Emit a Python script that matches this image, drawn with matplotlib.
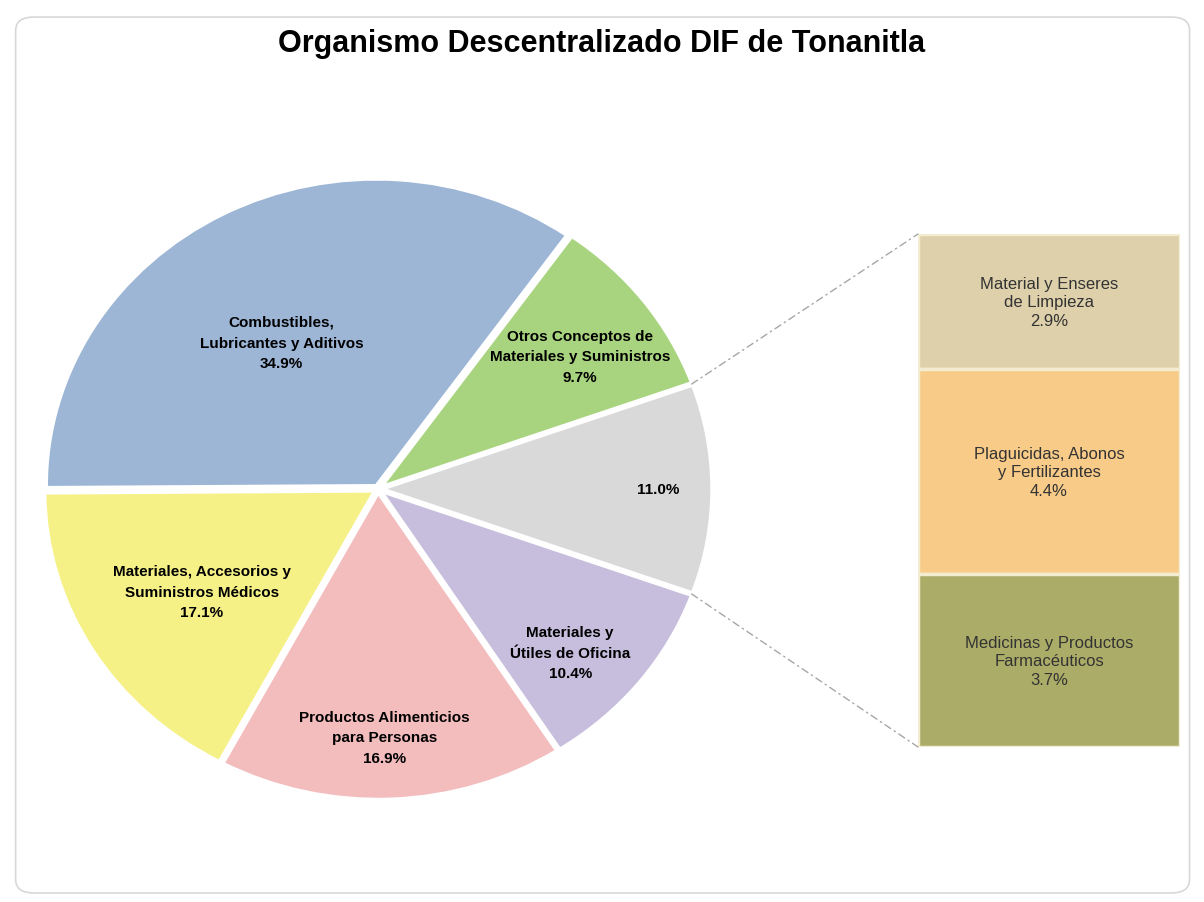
import numpy as np
import matplotlib.pyplot as plt
from matplotlib.patches import FancyBboxPatch, ConnectionPatch

# pie data (counterclockwise starting with the grouped slice)
pie_labels = ['', 'Otros Conceptos de\nMateriales y Suministros', 'Combustibles,\nLubricantes y Aditivos',
              'Materiales, Accesorios y\nSuministros Médicos', 'Productos Alimenticios\npara Personas',
              'Materiales y\nÚtiles de Oficina']
pie_values = [11.0, 9.7, 34.9, 17.1, 16.9, 10.4]
pie_colors = ['#d9d9d9', '#a9d47f', '#9db6d6', '#f5f187', '#f4bdbd', '#c6bedc']

# breakdown of the grouped slice (top to bottom)
bar_labels = ['Material y Enseres\nde Limpieza', 'Plaguicidas, Abonos\ny Fertilizantes',
              'Medicinas y Productos\nFarmacéuticos']
bar_values = [2.9, 4.4, 3.7]
bar_colors = ['#ddd0aa', '#f8cb88', '#aaac67']

title = 'Organismo Descentralizado DIF de Tonanitla'

plt.rcParams['font.family'] = ['Liberation Sans', 'DejaVu Sans']

fig = plt.figure(figsize=(12.04, 9.03), dpi=100)
fig.patches.append(FancyBboxPatch((0.013, 0.01), 0.975, 0.97, boxstyle='round,pad=0,rounding_size=0.015',
                                  transform=fig.transFigure, facecolor='none', edgecolor='#d8d8d8',
                                  lw=1.2, zorder=-1))
fig.text(0.5, 0.951, title, ha='center', va='center', fontsize=22, fontweight='bold')

# pie
ax = fig.add_axes([0.0125, 0.0836, 0.603, 0.7475])
start = -pie_values[0] / 100 * 360 / 2
wedges, _ = ax.pie(pie_values, colors=pie_colors, startangle=start, counterclock=True,
                   explode=[0.012] * len(pie_values),
                   wedgeprops=dict(edgecolor='white', linewidth=2.5))
ax.set_xlim(-1.1, 1.1)
ax.set_ylim(-1.1, 1.1)
ax.set_aspect('auto')
ax.axis('off')

label_r = [0.85, 0.75, 0.56, 0.63, 0.81, 0.79]
label_da = [0, -2, 4, 1, -1, -4]
for w, lab, val, r, da in zip(wedges, pie_labels, pie_values, label_r, label_da):
    ang = np.deg2rad((w.theta1 + w.theta2) / 2 + da)
    txt = f'{lab}\n{val:.1f}%' if lab else f'{val:.1f}%'
    ax.text(r * np.cos(ang), r * np.sin(ang), txt, ha='center', va='center',
            fontsize=11, fontweight='bold', linespacing=1.6)

# stacked bar
bx = fig.add_axes([918 / 1204, (903 - 748) / 903, 262 / 1204, 513 / 903])
bottom = sum(bar_values)
for lab, val, col in zip(bar_labels, bar_values, bar_colors):
    bottom -= val
    bx.bar(0, val, bottom=bottom, width=1, color=col, edgecolor='#f3ecd0', linewidth=2.5)
    bx.text(0, bottom + val / 2, f'{lab}\n{val:.1f}%', ha='center', va='center', fontsize=12,
            color='#333333', linespacing=1.3)
bx.set_xlim(-0.5, 0.5)
bx.set_ylim(0, sum(bar_values))
bx.axis('off')

# connectors from grouped slice to bar
g = wedges[0]
for ang, yb in [(g.theta2, sum(bar_values)), (g.theta1, 0)]:
    a = np.deg2rad(ang)
    con = ConnectionPatch(xyA=(1.01 * np.cos(a), 1.01 * np.sin(a)), coordsA=ax.transData,
                          xyB=(-0.5, yb), coordsB=bx.transData,
                          color='#a6a6a6', lw=1, linestyle=(0, (5, 3, 1, 3)))
    fig.add_artist(con)

fig.savefig('out.png', dpi=100)
